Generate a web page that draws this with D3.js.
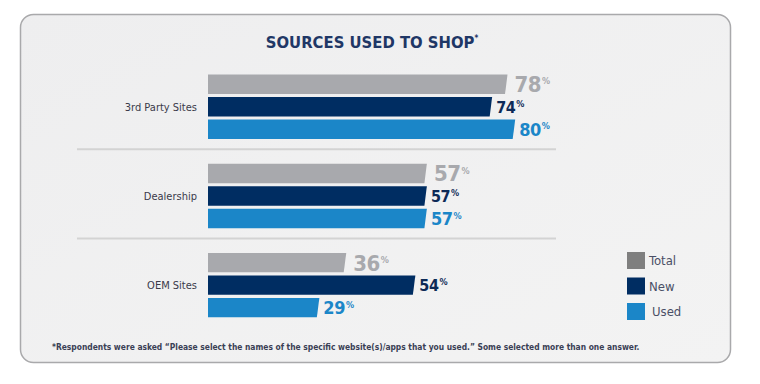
<!DOCTYPE html>
<html>
<head>
<meta charset="utf-8">
<script src="https://cdn.jsdelivr.net/npm/d3@7"></script>
<style>
  body { margin: 0; background: #fff; }
  svg { display: block; }
  text { font-family: "DejaVu Sans Condensed", "DejaVu Sans", sans-serif; }
</style>
</head>
<body>
<svg class="chart" width="760" height="384"></svg>
<script>
  var categories = ['3rd Party Sites', 'Dealership', 'OEM Sites'];
  var seriesNames = ['Total', 'New', 'Used'];
  var totalVals = [78, 57, 36];
  var newVals = [74, 57, 54];
  var usedVals = [80, 57, 29];
  var title = 'SOURCES USED TO SHOP';
  var footnote = '*Respondents were asked \u201cPlease select the names of the specific website(s)/apps that you used.\u201d Some selected more than one answer.';

  var colors = {Total: '#a8a9ad', New: '#002d62', Used: '#1b86c8'};
  var legendColors = {Total: '#7f7f7f', New: '#002d62', Used: '#1b86c8'};
  var labelStyle = {
    Total: {size: 22, color: '#a8a9ad'},
    New: {size: 16, color: '#0d2a57'},
    Used: {size: 18, color: '#1b86c8'}
  };

  var svg = d3.select('.chart');

  var defs = svg.append('defs');
  var grad = defs.append('linearGradient')
    .attr('id', 'bg')
    .attr('x1', 0).attr('y1', 0).attr('x2', 1).attr('y2', 1);
  grad.append('stop').attr('offset', 0).attr('stop-color', '#eeeeef');
  grad.append('stop').attr('offset', 1).attr('stop-color', '#f3f3f3');

  // panel
  svg.append('rect')
    .attr('x', 20.5).attr('y', 14.5)
    .attr('width', 710).attr('height', 348)
    .attr('rx', 13).attr('ry', 13)
    .attr('fill', 'url(#bg)')
    .attr('stroke', '#a9a9ab')
    .attr('stroke-width', 1.5);

  svg.append('text')
    .attr('x', 372).attr('y', 48)
    .attr('text-anchor', 'middle')
    .attr('font-size', 16.5)
    .attr('font-weight', 'bold')
    .attr('fill', '#1f3766')
    .text(title)
    .append('tspan')
      .attr('font-size', 8)
      .attr('dy', -7)
      .text('*');

  var x = d3.scaleLinear().domain([0, 100]).range([208, 592]);

  var y = d3.scaleBand()
    .domain(categories)
    .range([61, 61 + 3 * 89.2]);

  var yInner = d3.scaleBand()
    .domain(seriesNames)
    .range([12, 12 + 67.5])
    .paddingInner(0.14)
    .paddingOuter(0.07);

  var rows = categories.map(function(c, i) {
    return {
      category: c,
      values: [
        {series: 'Total', value: totalVals[i]},
        {series: 'New', value: newVals[i]},
        {series: 'Used', value: usedVals[i]}
      ]
    };
  });

  // separators
  svg.selectAll('line.sep')
    .data(categories.slice(1))
    .enter().append('line')
    .attr('class', 'sep')
    .attr('x1', 77).attr('x2', 556)
    .attr('y1', function(c){ return y(c) - 1; })
    .attr('y2', function(c){ return y(c) - 1; })
    .attr('stroke', '#d3d3d3')
    .attr('stroke-width', 2);

  var groups = svg.selectAll('g.group')
    .data(rows)
    .enter().append('g')
    .attr('class', 'group')
    .attr('transform', function(d){ return 'translate(0,' + y(d.category) + ')'; });

  groups.append('text')
    .attr('x', 197)
    .attr('y', function(){ return yInner('New') + yInner.bandwidth() / 2 + 4; })
    .attr('text-anchor', 'end')
    .attr('font-size', 11)
    .attr('fill', '#3a3a4a')
    .text(function(d){ return d.category; });

  var bars = groups.selectAll('g.bar')
    .data(function(d){ return d.values; })
    .enter().append('g')
    .attr('class', 'bar');

  bars.append('path')
    .attr('d', function(d) {
      var y0 = yInner(d.series), h = yInner.bandwidth();
      var x0 = x(0), x1 = x(d.value);
      return 'M' + x0 + ',' + y0 + 'L' + x1 + ',' + y0 +
        'L' + (x1 - 2.5) + ',' + (y0 + h) + 'L' + x0 + ',' + (y0 + h) + 'Z';
    })
    .attr('fill', function(d){ return colors[d.series]; });

  var labels = bars.append('text')
    .attr('x', function(d){ return x(d.value) + (d.series === 'Total' ? 7 : 4); })
    .attr('y', function(d){
      return yInner(d.series) + yInner.bandwidth() / 2 + labelStyle[d.series].size * 0.36;
    })
    .attr('font-size', function(d){ return labelStyle[d.series].size; })
    .attr('font-weight', 'bold')
    .attr('letter-spacing', -0.5)
    .attr('fill', function(d){ return labelStyle[d.series].color; });

  labels.append('tspan')
    .text(function(d){ return d.value; });
  labels.append('tspan')
    .attr('font-size', 9)
    .attr('dx', 1)
    .attr('dy', function(d){ return -labelStyle[d.series].size * 0.35; })
    .text('%');

  // legend
  var legend = svg.selectAll('g.legend')
    .data(seriesNames)
    .enter().append('g')
    .attr('class', 'legend')
    .attr('transform', function(d, i){ return 'translate(627,' + (252 + i * 25.5) + ')'; });

  legend.append('rect')
    .attr('width', 18).attr('height', 17)
    .attr('fill', function(d){ return legendColors[d]; });

  legend.append('text')
    .attr('x', function(d){ return d === 'Used' ? 25 : 22; })
    .attr('y', 13)
    .attr('font-size', 13)
    .attr('fill', '#4a4f66')
    .text(function(d){ return d; });

  svg.append('text')
    .attr('x', 52).attr('y', 350)
    .attr('font-size', 8.4)
    .attr('font-weight', 'bold')
    .attr('fill', '#3a3f55')
    .text(footnote);
</script>
</body>
</html>
